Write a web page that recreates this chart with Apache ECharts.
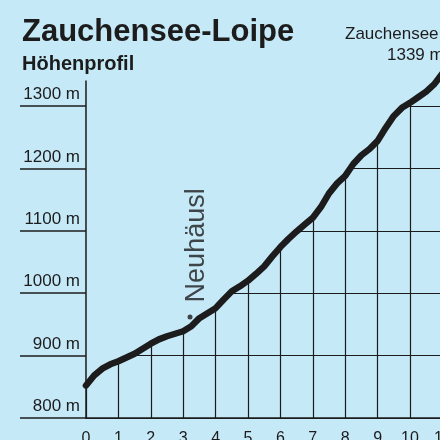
<!DOCTYPE html>
<html>
<head>
<meta charset="utf-8">
<script src="https://cdn.jsdelivr.net/npm/echarts@6/dist/echarts.min.js"></script>
<style>
  html, body { margin: 0; padding: 0; background: #c6e9f8; }
  #chart { width: 440px; height: 440px; }
</style>
</head>
<body>
<div id="chart"></div>
<script>
// Höhenprofil: Distanz (km) und Höhe (m)
var km = [0, 0.25, 0.5, 0.75, 1, 1.25, 1.5, 1.75, 2, 2.25, 2.5, 2.75, 3, 3.25, 3.5, 3.75,
  4, 4.25, 4.5, 4.75, 5, 5.25, 5.5, 5.75, 6, 6.25, 6.5, 6.75, 7, 7.25, 7.5, 7.75,
  8, 8.25, 8.5, 8.75, 9, 9.25, 9.5, 9.75, 10, 10.25, 10.5, 10.75, 11]
var hoehe = [852, 868, 879, 886, 891, 897, 903, 911, 919, 926, 931, 935, 939, 947, 960, 968,
  976, 990, 1003, 1011, 1020, 1031, 1043, 1059, 1074, 1087, 1099, 1110, 1121, 1138, 1160, 1176,
  1188, 1207, 1221, 1231, 1244, 1265, 1284, 1297, 1305, 1314, 1323, 1335, 1352]
var hoehenMarken = [800, 900, 1000, 1100, 1200, 1300]
var ort = { name: "Neuhäusl", km: 3.21, hoehe: 962 }

var bg = "#c6e9f8"
var ink = "#1c1c1c"
var font = "Liberation Sans"

var chart = echarts.init(document.getElementById("chart"))

var profil = km.map(function (k, i) { return [k, hoehe[i]] })

var option = {
  backgroundColor: bg,
  animation: false,
  textStyle: { fontFamily: font },
  title: [
    {
      text: "Zauchensee-Loipe",
      subtext: "Höhenprofil",
      left: 17,
      top: 12,
      itemGap: 6,
      textStyle: { fontSize: 31, fontWeight: "bold", color: ink, fontFamily: font },
      subtextStyle: { fontSize: 20, fontWeight: "bold", color: ink, fontFamily: font },
    },
    {
      text: "Zauchensee",
      left: 340,
      top: 21,
      textStyle: { fontSize: 17, fontWeight: "normal", color: ink, fontFamily: font },
    },
    {
      text: "1339 m",
      left: 382,
      top: 42,
      textStyle: { fontSize: 17, fontWeight: "normal", color: ink, fontFamily: font },
    },
  ],
  grid: { left: 86, top: 81, width: 356.4, height: 337, containLabel: false, outerBoundsMode: "none" },
  xAxis: [
    {
      type: "value",
      min: 0,
      max: 11,
      interval: 1,
      z: 5,
      axisLine: { lineStyle: { color: ink, width: 1.5 } },
      axisTick: { show: false },
      axisLabel: { fontSize: 16, color: ink, margin: 13, fontFamily: font },
      splitLine: { show: false },
    },
    {
      type: "value",
      min: 0,
      max: 11,
      interval: 1,
      position: "bottom",
      z: 0,
      axisLine: { show: false },
      axisTick: { show: false },
      axisLabel: { show: false },
      splitLine: { lineStyle: { color: ink, width: 1.2 } },
    },
  ],
  yAxis: [
    {
      type: "value",
      min: 800,
      max: 1340,
      interval: 100,
      z: 5,
      axisLine: { show: true, lineStyle: { color: ink, width: 1.5 } },
      axisTick: {
        show: true,
        length: 66,
        customValues: hoehenMarken,
        lineStyle: { color: ink, width: 1.5 },
      },
      axisLabel: {
        customValues: hoehenMarken,
        formatter: function (v) { return v + " m" },
        fontSize: 17,
        color: ink,
        margin: 6,
        verticalAlign: "bottom",
        padding: [0, 0, 3, 0],
        fontFamily: font,
      },
      splitLine: { show: false },
    },
    {
      type: "value",
      min: 800,
      max: 1340,
      interval: 100,
      position: "left",
      z: 0,
      axisLine: { show: false },
      axisTick: { show: false },
      axisLabel: { show: false },
      splitLine: {
        lineStyle: { color: [ink, ink, ink, ink, ink, ink, "rgba(0,0,0,0)"], width: 1.2 },
      },
    },
  ],
  series: [
    {
      type: "line",
      xAxisIndex: 0,
      yAxisIndex: 0,
      data: profil,
      smooth: false,
      symbol: "none",
      clip: false,
      lineStyle: { color: ink, width: 6.5, join: "round", cap: "round" },
      areaStyle: { origin: "end", color: bg, opacity: 1 },
      z: 2,
    },
    {
      type: "scatter",
      xAxisIndex: 0,
      yAxisIndex: 0,
      data: [[ort.km, ort.hoehe]],
      symbolSize: 5,
      itemStyle: { color: ink },
      z: 3,
      label: {
        show: true,
        formatter: ort.name,
        position: "top",
        rotate: 90,
        align: "left",
        verticalAlign: "middle",
        distance: 12,
        offset: [0, 7],
        fontSize: 27,
        color: ink,
        fontFamily: font,
      },
    },
  ],
}

chart.setOption(option)
</script>
</body>
</html>
